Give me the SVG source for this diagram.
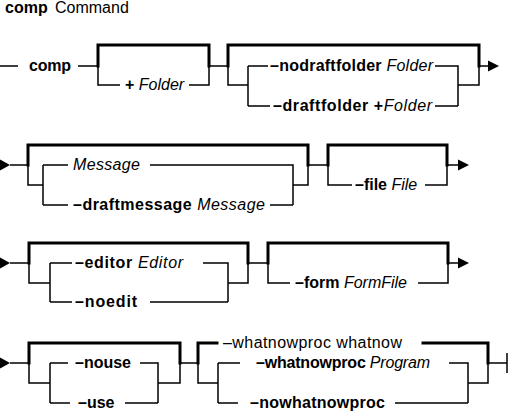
<svg xmlns="http://www.w3.org/2000/svg" width="508" height="415" viewBox="0 0 508 415">
<style>
  text { font-family: "Liberation Sans", Arial, Helvetica, sans-serif; font-size: 16px; fill: #000; }
  .b { font-weight: bold; }
  .i { font-style: italic; }
  .thin { fill: none; stroke: #000; stroke-width: 1.5; stroke-linejoin: miter; }
  .thick { fill: none; stroke: #000; stroke-width: 3; stroke-linejoin: miter; stroke-linecap: square; }
  .head { fill: #000; stroke: none; }
</style>
<rect width="508" height="415" fill="#fff"/>

<g id="title">
  <text x="5" y="13" class="b">comp</text>
  <text x="55" y="13">Command</text>
</g>

<g id="connectors">
  <!-- Row 1 -->
  <path class="thin" d="M0,66 H18 M78,66 H98"/>
  <path class="thick" d="M98,66 V45 H209 V66"/>
  <path class="thin" d="M98,66 V85 H120 M189,85 H209 V66 H228"/>
  <path class="thick" d="M228,66 V45 H479 V66"/>
  <path class="thin" d="M228,66 V85 H248 M248,66 V106 M248,66 H268 M435,66 H458 V106 M248,106 H270 M435,106 H458 M458,85 H479 V66 H488"/>
  <polygon class="head" points="488,60.5 499,66 488,71.5"/>

  <!-- Row 2 -->
  <polygon class="head" points="0,159.5 10,165 0,170.5"/>
  <path class="thin" d="M10,165 H28"/>
  <path class="thick" d="M28,165 V145 H308 V165"/>
  <path class="thin" d="M28,165 V185 H43 M43,165 V205 M43,165 H68 M150,165 H293 V205 M43,205 H68 M270,205 H293 M293,185 H308 V165 H328"/>
  <path class="thick" d="M328,165 V145 H447 V165"/>
  <path class="thin" d="M328,165 V185 H352 M425,185 H447 V165 H458"/>
  <polygon class="head" points="458,159.5 469,165 458,170.5"/>

  <!-- Row 3 -->
  <polygon class="head" points="0,257.5 10,263 0,268.5"/>
  <path class="thin" d="M10,263 H29"/>
  <path class="thick" d="M29,263 V243 H248 V263"/>
  <path class="thin" d="M29,263 V283 H50 M50,263 V302 M50,263 H72 M203,263 H228 V302 M50,302 H72 M150,302 H228 M228,283 H248 V263 H268"/>
  <path class="thick" d="M268,263 V243 H448 V263"/>
  <path class="thin" d="M268,263 V283 H290 M418,283 H448 V263 H458"/>
  <polygon class="head" points="458,257.5 469,263 458,268.5"/>

  <!-- Row 4 -->
  <polygon class="head" points="0,357.5 10,363 0,368.5"/>
  <path class="thin" d="M10,363 H29"/>
  <path class="thick" d="M29,363 V343 H180 V363"/>
  <path class="thin" d="M29,363 V383 H50 M50,363 V403 M50,363 H68 M140,363 H158 V403 M50,403 H70 M125,403 H158 M158,383 H180 V363 H198"/>
  <path class="thick" d="M198,363 V343 H217 M423,343 H488 V363"/>
  <path class="thin" d="M198,363 V383 H218 M218,363 V403 M218,363 H240 M449,363 H468 V403 M218,403 H238 M395,403 H468 M468,383 H488 V363 H507 M507,353 V373"/>
</g>

<g id="n-comp"><text x="29" y="71" class="b" textLength="42">comp</text></g>
<g id="n-folder"><text x="125" y="90"><tspan class="b">+</tspan><tspan class="i"> Folder</tspan></text></g>
<g id="n-nodraftfolder"><text x="270" y="71" textLength="163"><tspan class="b">–nodraftfolder</tspan><tspan class="i"> Folder</tspan></text></g>
<g id="n-draftfolder"><text x="273" y="111" textLength="159"><tspan class="b">–draftfolder +</tspan><tspan class="i">Folder</tspan></text></g>

<g id="n-message"><text x="73" y="170" class="i" textLength="67">Message</text></g>
<g id="n-draftmessage"><text x="73" y="210" textLength="192"><tspan class="b">–draftmessage</tspan><tspan class="i"> Message</tspan></text></g>
<g id="n-file"><text x="355" y="190"><tspan class="b">–file</tspan><tspan class="i"> File</tspan></text></g>

<g id="n-editor"><text x="75" y="268" textLength="108"><tspan class="b">–editor</tspan><tspan class="i"> Editor</tspan></text></g>
<g id="n-noedit"><text x="75" y="307" class="b" textLength="62">–noedit</text></g>
<g id="n-form"><text x="295" y="288"><tspan class="b">–form</tspan><tspan class="i"> FormFile</tspan></text></g>

<g id="n-nouse"><text x="75" y="368" class="b">–nouse</text></g>
<g id="n-use"><text x="78" y="408" class="b">–use</text></g>
<g id="n-whatnowdefault"><text x="223" y="348" textLength="179">–whatnowproc whatnow</text></g>
<g id="n-whatnowproc"><text x="256" y="368" textLength="174"><tspan class="b">–whatnowproc</tspan><tspan class="i"> Program</tspan></text></g>
<g id="n-nowhatnowproc"><text x="250" y="408" class="b" textLength="135">–nowhatnowproc</text></g>
</svg>
